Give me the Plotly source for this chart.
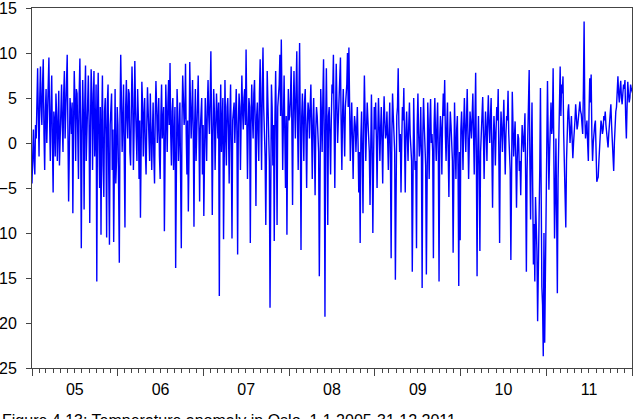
import pandas as pd
import plotly.graph_objects as go

# Values, one every 6 days ("main") and an
# estimated in-between value 3 days later ("mid") per year.
y2005 = [-4.5, 1.5, -3.5, 0.5, 8.3, -1.5, 8.5, 2.0, 9.3, -3.0, 6.0, 3.0, 9.5, -2.0, 7.5, -5.5,
         2.5, 5.5, -2.0, 5.8, 0.5, 6.5, -1.0, 8.0, 3.0, 9.8, -6.5, 5.0, 1.0, -7.8, 8.0, -2.0,
         5.5, -4.0, 9.4, -11.7, 7.0, -7.4, 8.6, 0.5, 7.5, -8.9, 8.2, -3.0, 8.0, 1.0, -15.4,
         7.8, -5.0, -10.2, 7.5, -6.0, 5.0, -10.5, 6.5, -11.3, 4.0, -3.0, -11.0, 6.0, -2.0]
m2005 = [-1.0, -2.0, 2.0, 4.5, 3.0, 5.0, 4.0, 6.5, 1.0, 3.5, 0.0, 7.0, 2.5, 4.0, 0.0, 3.5,
         -1.5, 3.0, 2.0, -2.5, 4.0, 2.0, 5.5, 0.5, 6.0, 1.5, -1.0, 3.5, 4.5, 2.0, 4.5, 6.0,
         1.0, 5.5, 2.0, 1.0, 3.0, 4.5, -2.0, 5.0, 2.5, 1.5, 5.5, 4.0, -1.5, 6.5, 3.0, 0.5,
         4.0, 2.0, -2.5, 3.5, 1.0, 4.5, -3.5, 2.0, 5.5, 1.5, 3.0, -4.5, 4.0]
y2006 = [2.0, -13.3, 9.8, -1.0, 6.5, -9.4, 7.0, 0.5, 5.5, -2.5, 8.5, -3.0, 9.1, 1.0, 6.0, -4.0,
         -8.3, 6.8, -1.5, 5.0, -3.5, 6.2, 1.0, 5.5, -3.0, 4.5, -4.5, 6.9, 0.0, 5.0, -4.0, 6.5,
         2.0, -9.8, 6.5, -1.0, 7.0, 8.9, -2.5, 5.0, 1.0, -13.9, 6.0, -2.0, 4.5, -11.7, 7.5,
         2.0, 8.8, -3.5, -7.6, 9.0, 0.5, 7.0, -9.3, 6.0, 1.5, 7.5, -6.5, 3.0, -3.5]
m2006 = [-5.0, 3.0, 4.5, 2.5, -1.5, 4.0, 2.5, 6.0, -1.0, 3.5, 5.0, 1.5, 4.0, -2.0, 3.0, 2.5,
         1.0, 4.5, 3.0, -1.0, 2.0, 3.5, -2.0, 2.0, 1.0, -1.5, 3.0, 4.0, 2.5, -1.5, 3.0, 0.5,
         4.0, 1.5, 3.0, 4.5, 2.0, 1.0, 3.5, -3.0, 4.0, 2.0, 3.5, 1.0, -3.5, 2.5, 5.0, 3.0,
         1.0, 2.5, -1.0, 4.5, 3.5, 1.0, 2.0, -2.0, 4.0, 2.0, 1.5, 5.0, 2.0]
y2007 = [-8.1, 5.0, -2.0, 7.0, 1.0, 10.2, -8.0, 6.0, -3.0, 5.5, 0.5, -17.0, 6.5, 2.0, -10.7,
         7.0, -2.5, 5.0, -4.5, 6.5, -10.6, 4.0, 0.0, 6.0, -12.4, 5.5, -3.0, 7.5, 1.5, 6.0, 10.4,
         -4.0, 5.0, -11.1, 6.5, 0.5, 7.0, -7.0, 4.5, -2.0, 9.3, -3.0, 10.6, 2.0, -9.1, 8.0, 1.0,
         -18.3, 6.5, -2.5, -10.9, 8.0, -9.1, 5.0, 9.8, 11.5, -3.0, 7.5, -5.0, -10.2, 6.0]
m2007 = [1.0, 2.0, 4.0, 3.0, 5.0, 2.0, 1.0, 3.5, 1.5, 3.0, 4.5, 2.0, -1.0, 5.0, 3.0, 1.0,
         4.0, 1.5, 3.0, -1.0, 2.5, 4.5, 3.0, 1.0, 2.0, 4.0, 2.5, 3.5, 5.0, 2.0, 3.0, 1.5,
         4.0, 2.0, 3.0, 5.5, 2.0, 3.0, 1.0, 5.5, 3.0, 6.0, 4.0, -1.5, 3.0, 4.5, -2.0, 2.5,
         4.0, 2.0, 3.0, 1.5, 4.0, 6.5, 3.0, 4.0, 2.5, 1.0, 3.0, 1.0, 2.5]
y2008 = [3.0, 8.5, -6.9, 8.0, 0.5, 10.2, -3.0, 11.1, -11.9, 5.5, -2.0, 6.0, -5.0, 4.5, 0.5,
         6.5, -4.0, 5.0, -5.8, 4.0, 1.0, -14.8, 6.0, -1.0, 9.3, -19.3, 8.3, -9.1, 4.0, -3.5, 6.5,
         9.8, -5.0, 8.8, 0.0, 5.5, 9.5, -3.0, 6.0, -1.5, 5.0, 10.0, 10.6, -2.0, 4.5, -4.0, 3.0,
         -1.0, 4.0, -5.5, -11.1, 3.5, -7.8, 7.5, -2.0, 4.5, 0.0, -6.9, 5.4, -10.0, 4.0]
m2008 = [5.0, 2.0, 3.5, 4.0, 6.0, 2.5, 5.0, 1.0, 3.0, 2.0, 4.5, 1.0, 2.0, 3.5, 4.0, 1.5,
         2.5, 0.0, 1.5, 3.0, -1.0, 2.0, 3.0, 5.0, 1.0, 2.0, 1.5, 3.0, 1.0, 2.5, 5.5, 2.0,
         3.0, 4.5, 2.5, 6.0, 2.0, 3.0, 2.0, 4.0, 6.5, 4.0, 3.0, 1.5, 0.5, 1.0, 2.0, 1.5,
         0.0, -1.0, 0.5, -1.0, 2.0, 3.0, 1.5, 2.5, -1.0, 1.0, 0.0, -2.0, 1.5]
y2009 = [4.5, -5.0, 5.0, -2.0, 4.0, -4.5, 5.2, 0.5, 3.5, -3.0, 4.5, -12.8, 5.5, 1.0, -15.2,
         3.0, 8.3, -1.0, -5.5, 4.0, 6.1, -5.5, 3.5, -2.0, 4.5, 0.0, -14.3, 5.0, -3.0, -11.7, 5.5,
         -1.5, 4.0, -16.1, 5.0, 0.5, -14.6, 4.5, -4.0, 4.9, 1.0, -12.8, 5.0, -2.0, 4.5, -15.4,
         3.0, -3.5, 5.5, 7.0, -2.0, 4.5, -6.0, 3.5, -1.0, -12.2, 4.5, -4.0, 3.0, -15.9, -10.8]
m2009 = [0.5, 1.0, 2.0, 1.5, 0.0, 2.0, 2.5, 1.0, 0.5, 1.5, -2.0, 1.0, 3.0, -1.0, -3.0, 4.0,
         2.0, 1.0, 0.0, 2.5, 0.0, 1.5, 0.5, 2.0, 1.0, -2.0, 1.5, 0.0, -2.0, 2.0, 1.0, 0.0,
         -1.5, 1.0, 2.0, -2.5, 0.5, 1.0, 2.5, 0.0, -1.0, 2.0, 1.0, 2.0, -1.5, 0.5, 1.5, 2.5,
         3.0, 1.0, 2.0, -1.0, 0.5, 2.0, -2.0, 1.0, 0.0, 1.5, -3.0, -1.0, 1.5]
y2010 = [3.5, -3.0, 5.0, -1.0, 6.0, -4.0, 3.5, 0.5, 5.5, -3.5, 7.8, -14.8, 3.0, -12.0, 1.0,
         5.1, -4.0, 3.5, -2.0, 5.3, 0.0, 5.0, -7.2, 3.0, -2.5, 4.0, 6.0, -11.1, 3.5, -1.0, 4.8,
         -3.5, 3.0, 5.8, -2.0, -13.0, 5.7, -1.5, 2.4, -7.2, 1.0, -3.1, -5.8, 2.0, -1.0, 3.3,
         -14.3, 1.0, 8.1, -8.5, 4.5, -13.5, -15.4, -8.0, -19.8, -12.0, 6.1, -16.0, -23.7,
         -22.2, -6.9]
m2010 = [1.0, 2.0, 1.5, 2.5, 1.0, 0.0, 2.0, 3.0, 1.0, 2.5, -2.0, -1.0, -2.5, -1.0, 2.5, 1.0,
         0.5, 1.5, 2.5, 2.0, 3.0, -1.0, 0.0, 1.0, 1.5, 2.5, -2.0, 0.0, 1.5, 2.0, 0.5, 1.0,
         2.5, 1.0, -3.0, 0.0, 2.0, 0.5, -1.5, -2.0, 0.5, -2.0, -1.0, 0.5, 1.0, -4.0, -3.0,
         2.0, -2.0, -1.0, -5.0, -9.0, -6.0, -12.0, -14.0, -3.0, -8.0, -18.0, -10.0, -15.0, 1.0]
y2011 = [6.9, -5.2, 3.9, 1.0, 8.3, -10.6, 0.5, -16.7, 0.6, 8.5, 6.5, 7.4, -4.0, -9.4, 2.0,
         4.3, 0.0, 3.0, -1.7, 1.0, 4.3, 1.5, 3.0, 4.6, 3.2, 1.0, 13.5, 0.5, 2.5, -2.0, 7.2, 7.6,
         -2.0, 1.5, 2.5, -4.3, -3.8, -0.5, 2.5, 1.0, 3.0, 3.5, 1.0, -0.5, 2.0, 4.3, 0.5, -3.1,
         3.0, 4.0, 7.4, 4.5, 6.9, 4.3, 6.5, 7.0, 0.5, 6.8, 4.5, 6.5, 5.7]
m2011 = [0.5, -1.0, 4.5, 2.0, -3.0, -6.0, -8.0, -4.0, 5.0, 3.0, 5.5, 1.0, -7.0, -2.0, 3.5, 2.0,
         1.5, 0.5, 0.0, 2.5, 3.0, 2.0, 4.0, 3.5, 2.0, 6.0, 3.0, 1.5, 0.0, 3.5, 4.5, 1.0,
         0.0, 2.0, -1.0, -4.0, -2.0, 1.0, 2.0, 1.5, 2.5, 2.0, 0.0, 1.0, 3.0, 2.0, -1.5, 0.0,
         3.5, 5.5, 5.5, 6.0, 5.0, 5.5, 6.0, 3.0, 4.0, 5.5, 5.0, 6.0, 5.5]

main_vals = y2005 + y2006 + y2007 + y2008 + y2009 + y2010 + y2011
mid_vals = m2005 + m2006 + m2007 + m2008 + m2009 + m2010 + m2011
values = [v for pair in zip(main_vals, mid_vals) for v in pair]
dates = pd.date_range("2005-01-01", periods=len(values), freq="3D")

y_ticks = [-25, -20, -15, -10, -5, 0, 5, 10, 15]
caption = "Figure 4.13: Temperature anomaly in Oslo, 1.1.2005-31.12.2011"

fig = go.Figure()
fig.add_trace(go.Scatter(x=dates, y=values, mode="lines",
                         line=dict(color="#0000FF", width=1.4)))

fig.update_layout(
    width=636, height=419,
    margin=dict(l=32, r=4, t=8, b=51, autoexpand=False),
    paper_bgcolor="white", plot_bgcolor="white",
    showlegend=False,
    font=dict(family="Liberation Sans, Arial, sans-serif", size=16, color="black"),
)
fig.update_xaxes(
    type="date", range=["2005-01-01", "2012-01-01"],
    tick0="2005-01-01", dtick="M12", tickformat="%y", ticklabelmode="period",
    ticks="outside", ticklen=7, tickcolor="#444", tickwidth=1,
    minor=dict(dtick="M1", ticks="outside", ticklen=4, tickcolor="#444"),
    showline=True, linecolor="#444", linewidth=1, mirror=True,
    showgrid=False, zeroline=False, automargin=False,
    tickfont=dict(size=16),
)
fig.update_yaxes(
    range=[-25, 15], tickvals=y_ticks,
    ticks="outside", ticklen=5, tickcolor="#444", tickwidth=1,
    showline=True, linecolor="#444", linewidth=1, mirror=True,
    showgrid=False, zeroline=False, automargin=False,
    tickfont=dict(size=16), ticklabelstandoff=6, ticklabeloverflow="allow",
)
fig.add_annotation(text=caption, xref="paper", yref="paper",
                   x=-32 / 600, y=-42 / 360, xanchor="left", yanchor="top",
                   showarrow=False, font=dict(size=16, color="black"))

fig.write_html("out.html")
